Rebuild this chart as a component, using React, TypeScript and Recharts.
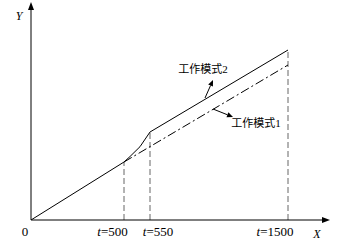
import React from 'react';
import { LineChart, Line, XAxis, YAxis, ReferenceLine, ReferenceDot } from 'recharts';

// time marks and their schematic positions on the horizontal axis
const tValues = [0, 500, 550, 1500];
const tPositions = [0, 93, 119, 257];
const tickLabels = ['0', 't=500', 't=550', 't=1500'];
const tickDx = [-6, -11.5, 8, -13];

// 工作模式2 (solid)
const mode2X = [0, 93, 99, 109, 119, 257];
const mode2Y = [0, 58, 63.5, 73.3, 88, 170];
// 工作模式1 (dash-dot), branching at t=500
const mode1X = [93, 257];
const mode1Y = [58, 155];

// guide lines heights (value of mode 2 at each mark)
const guideHeights = [58, 88, 170];

const mode2Data = mode2X.map((x, i) => ({ x, y: mode2Y[i] }));
const mode1Data = mode1X.map((x, i) => ({ x, y: mode1Y[i] }));

const FONT_SERIF = '"Liberation Serif", "DejaVu Serif", serif';
const FONT_CJK = '"Liberation Serif", "Noto Sans CJK SC", serif';

const ArrowShape = (props: any) => {
  const { x1, y1, x2, y2, size = 6, width = 2.6 } = props;
  if ([x1, y1, x2, y2].some((v) => v == null || isNaN(v))) return null;
  const dx = x2 - x1;
  const dy = y2 - y1;
  const len = Math.sqrt(dx * dx + dy * dy) || 1;
  const ux = dx / len;
  const uy = dy / len;
  const bx = x2 - ux * size;
  const by = y2 - uy * size;
  const px = -uy * width;
  const py = ux * width;
  return (
    <g>
      <line x1={x1} y1={y1} x2={bx} y2={by} stroke="#000" strokeWidth={1} />
      <polygon points={`${x2},${y2} ${bx + px},${by + py} ${bx - px},${by - py}`} fill="#000" />
    </g>
  );
};

const TextShape = (text: string, opts: any) => (props: any) => {
  const { cx, cy } = props;
  if (cx == null || cy == null) return null;
  return (
    <text
      x={cx}
      y={cy}
      textAnchor="middle"
      dominantBaseline="central"
      fontSize={opts.fontSize}
      fontStyle={opts.italic ? 'italic' : 'normal'}
      fontFamily={opts.family}
      fill="#000"
    >
      {text}
    </text>
  );
};

const CustomTick = (props: any) => {
  const { x, y, payload, index } = props;
  const i = tPositions.indexOf(payload.value);
  const label = tickLabels[i >= 0 ? i : index];
  const dx = tickDx[i >= 0 ? i : index];
  const isT = label.startsWith('t=');
  return (
    <text
      x={x + dx}
      y={y + 3}
      textAnchor="middle"
      dominantBaseline="central"
      fontSize={13}
      fontFamily={FONT_SERIF}
      fill="#000"
    >
      {isT ? (
        <>
          <tspan fontStyle="italic">t</tspan>
          <tspan>{label.slice(1)}</tspan>
        </>
      ) : (
        label
      )}
    </text>
  );
};

export default function App() {
  return (
    <div style={{ position: 'absolute', left: 0, top: 0, background: '#fff' }}>
      <LineChart
        width={337}
        height={244}
        margin={{ top: 2, right: 7, bottom: 0, left: 31 }}
      >
        <XAxis
          type="number"
          dataKey="x"
          domain={[0, 299]}
          ticks={tPositions}
          tick={<CustomTick />}
          axisLine={false}
          tickLine={false}
          height={24}
          allowDataOverflow
          interval={0}
        />
        <YAxis type="number" dataKey="y" domain={[0, 218]} hide allowDataOverflow />

        {/* guide lines */}
        {tPositions.slice(1).map((p, i) => (
          <ReferenceLine
            key={`g${i}`}
            segment={[{ x: p, y: 0 }, { x: p, y: guideHeights[i] }]}
            stroke="#666"
            strokeWidth={1}
            strokeDasharray="6 3"
            ifOverflow="visible"
          />
        ))}

        <Line
          data={mode2Data}
          dataKey="y"
          type="linear"
          stroke="#000"
          strokeWidth={1}
          dot={false}
          isAnimationActive={false}
        />
        <Line
          data={mode1Data}
          dataKey="y"
          type="linear"
          stroke="#000"
          strokeWidth={1}
          strokeDasharray="9 3 2 3"
          dot={false}
          isAnimationActive={false}
        />

        {/* axes with arrows */}
        <ReferenceLine
          segment={[{ x: 0, y: 0 }, { x: 299, y: 0 }]}
          ifOverflow="visible"
          shape={(p: any) => <ArrowShape {...p} size={8} width={3} />}
        />
        <ReferenceLine
          segment={[{ x: 0, y: 0 }, { x: 0, y: 218 }]}
          ifOverflow="visible"
          shape={(p: any) => <ArrowShape {...p} size={8} width={3} />}
        />

        {/* annotation arrows */}
        <ReferenceLine
          segment={[{ x: 174, y: 122 }, { x: 182, y: 140 }]}
          ifOverflow="visible"
          shape={(p: any) => <ArrowShape {...p} />}
        />
        <ReferenceLine
          segment={[{ x: 182, y: 111 }, { x: 202, y: 103 }]}
          ifOverflow="visible"
          shape={(p: any) => <ArrowShape {...p} />}
        />

        {/* annotation labels */}
        <ReferenceDot
          x={172}
          y={151}
          r={0}
          ifOverflow="visible"
          shape={TextShape('工作模式2', { fontSize: 11, family: FONT_CJK })}
        />
        <ReferenceDot
          x={225}
          y={97}
          r={0}
          ifOverflow="visible"
          shape={TextShape('工作模式1', { fontSize: 11, family: FONT_CJK })}
        />

        {/* axis titles */}
        <ReferenceDot
          x={-12}
          y={204}
          r={0}
          ifOverflow="visible"
          shape={TextShape('Y', { fontSize: 12, italic: true, family: FONT_SERIF })}
        />
        <ReferenceDot
          x={286}
          y={-14}
          r={0}
          ifOverflow="visible"
          shape={TextShape('X', { fontSize: 12, italic: true, family: FONT_SERIF })}
        />
      </LineChart>
    </div>
  );
}
